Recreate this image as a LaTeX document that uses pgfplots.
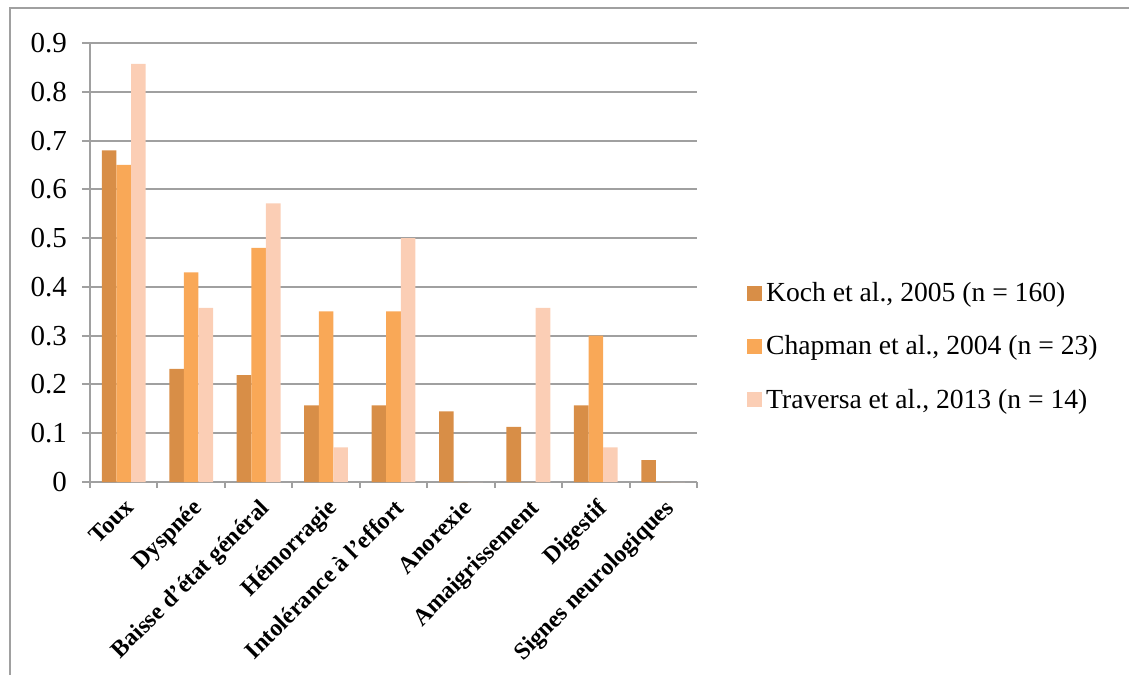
\documentclass[border=0pt]{standalone}
\usepackage{pgfplots}
\pgfplotsset{compat=1.18}
\usepackage{fontspec}
\setmainfont{Liberation Serif}
\definecolor{koch}{RGB}{216,142,71}
\definecolor{chap}{RGB}{249,168,87}
\definecolor{trav}{RGB}{251,206,181}
\definecolor{framec}{RGB}{160,160,160}
\begin{document}
\begin{tikzpicture}
\useasboundingbox (0,0) rectangle (564.5pt,337.5pt);
\draw[framec, line width=1pt] (5pt,0) -- (5pt,333.5pt) -- (564.5pt,333.5pt);
\begin{axis}[
  at={(45pt,96.5pt)}, anchor=south west,
  scale only axis, width=303.5pt, height=219.5pt,
  ybar=0pt, bar width=7.3pt,
  ymin=0, ymax=0.9,
  ytick={0,0.1,0.2,0.3,0.4,0.5,0.6,0.7,0.8,0.9},
  xmin=-0.5, xmax=8.5,
  xtick={0,1,2,3,4,5,6,7,8},
  xticklabels={Toux, Dyspnée, Baisse d’état général, Hémorragie, Intolérance à l’effort, Anorexie, Amaigrissement, Digestif, Signes neurologiques},
  minor xtick={-0.5,0.5,1.5,2.5,3.5,4.5,5.5,6.5,7.5,8.5},
  axis x line*=bottom, axis y line*=left,
  axis line style={framec, line width=1pt, -},
  tick align=outside,
  major tick length=4pt, minor tick length=3pt,
  major x tick style={draw=none},
  minor x tick style={framec, line width=1pt},
  major y tick style={framec, line width=1pt},
  ymajorgrids, grid style={framec, line width=1pt},
  yticklabel style={font=\fontsize{14.5}{16}\selectfont, xshift=-4pt, /pgf/number format/assume math mode=true},
  xticklabel style={font=\bfseries\fontsize{12}{14}\selectfont, rotate=45, anchor=north east, inner sep=2.5pt},
  legend style={at={(1.082,0.308)}, anchor=west, draw=none, fill=none,
    font=\fontsize{13.8}{16.5}\selectfont, row sep=11.5pt, inner sep=0pt},
  legend cell align=left,
  legend image code/.code={\fill[#1] (0pt,-3.75pt) rectangle (7.5pt,3.75pt);},
]
\addplot[fill=koch, draw=none] coordinates {(0,0.68) (1,0.232) (2,0.219) (3,0.157) (4,0.157) (5,0.145) (6,0.113) (7,0.157) (8,0.045)};
\addplot[fill=chap, draw=none] coordinates {(0,0.65) (1,0.43) (2,0.48) (3,0.35) (4,0.35) (5,0) (6,0) (7,0.30) (8,0)};
\addplot[fill=trav, draw=none] coordinates {(0,0.857) (1,0.357) (2,0.571) (3,0.071) (4,0.5) (5,0) (6,0.357) (7,0.071) (8,0)};
\legend{{Koch et al., 2005 (n = 160)}, {Chapman et al., 2004 (n = 23)}, {Traversa et al., 2013 (n = 14)}}
\end{axis}
\end{tikzpicture}
\end{document}
